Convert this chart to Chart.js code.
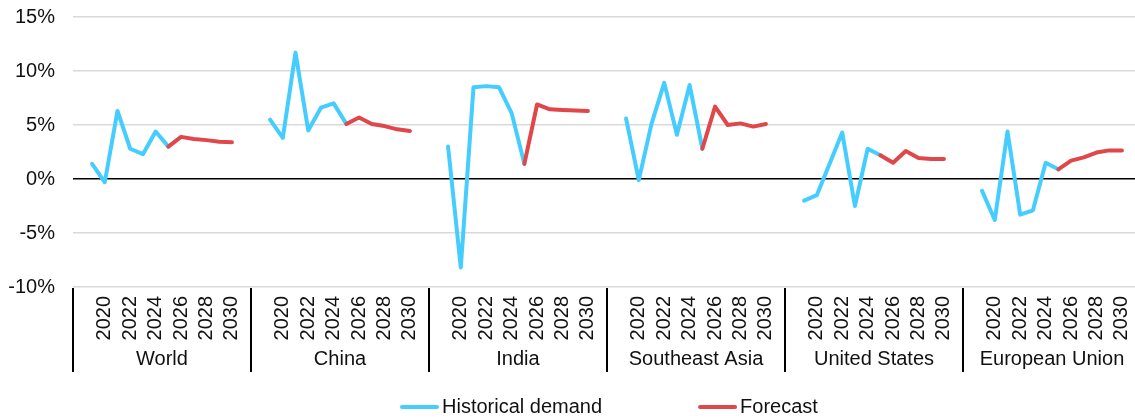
<!DOCTYPE html>
<html>
<head>
<meta charset="utf-8">
<script src="https://cdn.jsdelivr.net/npm/chart.js@4"></script>
<style>
  body { margin: 0; background: #fff; overflow: hidden; }
  #wrap { width: 1141px; height: 418px; }
</style>
</head>
<body>
<div id="wrap"><canvas id="demandChart"></canvas></div>
<script>
const regions = ['World', 'China', 'India', 'Southeast Asia', 'United States', 'European Union']
const years = ['2019', '2020', '2021', '2022', '2023', '2024', '2025', '2026', '2027', '2028', '2029', '2030']
const labeledYears = ['2020', '2022', '2024', '2026', '2028', '2030']
const yTicks = [-10, -5, 0, 5, 10, 15]

// historical demand growth, 2019-2025 (%)
const histWorld = [1.4, -0.3, 6.3, 2.8, 2.3, 4.4, 3.0]
const histChina = [5.5, 3.8, 11.7, 4.5, 6.6, 7.0, 5.1]
const histIndia = [3.0, -8.2, 8.5, 8.6, 8.5, 6.1, 1.4]
const histSEA = [5.6, -0.1, 5.1, 8.9, 4.1, 8.7, 2.8]
const histUS = [-2.0, -1.5, 1.4, 4.3, -2.5, 2.8, 2.2]
const histEU = [-1.1, -3.8, 4.4, -3.3, -2.9, 1.5, 0.9]

// forecast, 2025-2030 (%)
const fcWorld = [3.0, 3.9, 3.7, 3.6, 3.45, 3.4]
const fcChina = [5.1, 5.7, 5.1, 4.9, 4.6, 4.45]
const fcIndia = [1.4, 6.9, 6.45, 6.4, 6.35, 6.3]
const fcSEA = [2.8, 6.7, 5.0, 5.15, 4.85, 5.1]
const fcUS = [2.2, 1.5, 2.6, 1.95, 1.85, 1.85]
const fcEU = [0.9, 1.7, 2.0, 2.45, 2.65, 2.65]

const historical = [histWorld, histChina, histIndia, histSEA, histUS, histEU]
const forecast = [fcWorld, fcChina, fcIndia, fcSEA, fcUS, fcEU]

const FONT = '"Liberation Sans", Arial, sans-serif'
const TEXT = '#111'

// one blank slot on each side of every region group
const labels = []
const histData = []
const fcData = []
regions.forEach((r, g) => {
    labels.push(''); histData.push(null); fcData.push(null)
    years.forEach((y, i) => {
        labels.push(y)
        histData.push(i < historical[g].length ? historical[g][i] : null)
        fcData.push(i >= 6 ? forecast[g][i - 6] : null)
    })
    labels.push(''); histData.push(null); fcData.push(null)
})
const groupSize = years.length + 2

const groupAxis = {
    id: 'groupAxis',
    afterDraw(chart) {
        const {ctx, chartArea, scales: {x}} = chart
        const half = (x.getPixelForValue(1) - x.getPixelForValue(0)) / 2
        ctx.save()
        ctx.strokeStyle = '#000'
        ctx.lineWidth = 2
        ctx.font = '20px ' + FONT
        ctx.fillStyle = TEXT
        ctx.textAlign = 'center'
        ctx.textBaseline = 'middle'
        regions.forEach((name, g) => {
            const left = x.getPixelForValue(g * groupSize) - half
            const right = x.getPixelForValue(g * groupSize + groupSize - 1) + half
            ctx.beginPath()
            ctx.moveTo(left, chartArea.bottom + 1)
            ctx.lineTo(left, chartArea.bottom + 85)
            ctx.stroke()
            ctx.fillText(name, (left + right) / 2, chartArea.bottom + 72)
        })

        // legend
        const items = chart.data.datasets.map(d => ({text: d.label, color: d.borderColor}))
        const swatch = 39, gap = 3, spacing = 96
        const widths = items.map(it => swatch + gap + ctx.measureText(it.text).width)
        let lx = 400
        const ly = chart.height - 11
        ctx.textAlign = 'left'
        items.forEach((it, i) => {
            ctx.strokeStyle = it.color
            ctx.lineWidth = 4
            ctx.lineCap = 'round'
            ctx.beginPath()
            ctx.moveTo(lx + 2, ly)
            ctx.lineTo(lx + swatch - 2, ly)
            ctx.stroke()
            ctx.fillStyle = TEXT
            ctx.fillText(it.text, lx + swatch + gap, ly)
            lx += widths[i] + spacing
        })
        ctx.restore()
    }
}

const ctx = document.getElementById('demandChart')
const demandChart = new Chart(ctx, {
    type: 'line',
    data: {
        labels: labels,
        datasets: [{
            label: 'Historical demand',
            data: histData,
            borderColor: '#45CDFF',
            borderWidth: 4,
            borderCapStyle: 'round',
            borderJoinStyle: 'round',
            pointRadius: 0,
            tension: 0,
            spanGaps: false,
            order: 1,
        },
        {
            label: 'Forecast',
            data: fcData,
            borderColor: '#E0474A',
            borderWidth: 4,
            borderCapStyle: 'round',
            borderJoinStyle: 'round',
            pointRadius: 0,
            tension: 0,
            spanGaps: false,
            order: 0,
        }]
    },
    options: {
        responsive: true,
        maintainAspectRatio: false,
        animation: false,
        layout: {
            padding: {left: 9, right: 0, top: 17, bottom: 0}
        },
        plugins: {
            legend: {display: false},
            tooltip: {enabled: false},
        },
        scales: {
            y: {
                min: -10,
                max: 15,
                afterBuildTicks(scale) {
                    scale.ticks = yTicks.map(v => ({value: v}))
                },
                ticks: {
                    padding: 18,
                    font: {family: FONT, size: 20},
                    color: TEXT,
                    callback: v => v + '%',
                },
                grid: {
                    drawTicks: false,
                    color: c => c.tick && c.tick.value === 0 ? '#000' : '#d9d9d9',
                    lineWidth: 1.5,
                },
                border: {display: false},
                afterFit(scale) {
                    scale.width = 64
                    scale.paddingTop = 0
                    scale.paddingBottom = 0
                }
            },
            x: {
                offset: true,
                grid: {display: false},
                border: {display: false},
                ticks: {
                    autoSkip: false,
                    minRotation: 90,
                    maxRotation: 90,
                    padding: 1,
                    font: {family: FONT, size: 20},
                    color: TEXT,
                    callback: function (v) {
                        const l = this.getLabelForValue(v)
                        return labeledYears.includes(l) ? l : ''
                    }
                },
                afterFit(scale) {
                    scale.height = 131
                    scale.paddingLeft = 0
                    scale.paddingRight = 0
                }
            }
        }
    },
    plugins: [groupAxis],
})
</script>
</body>
</html>
